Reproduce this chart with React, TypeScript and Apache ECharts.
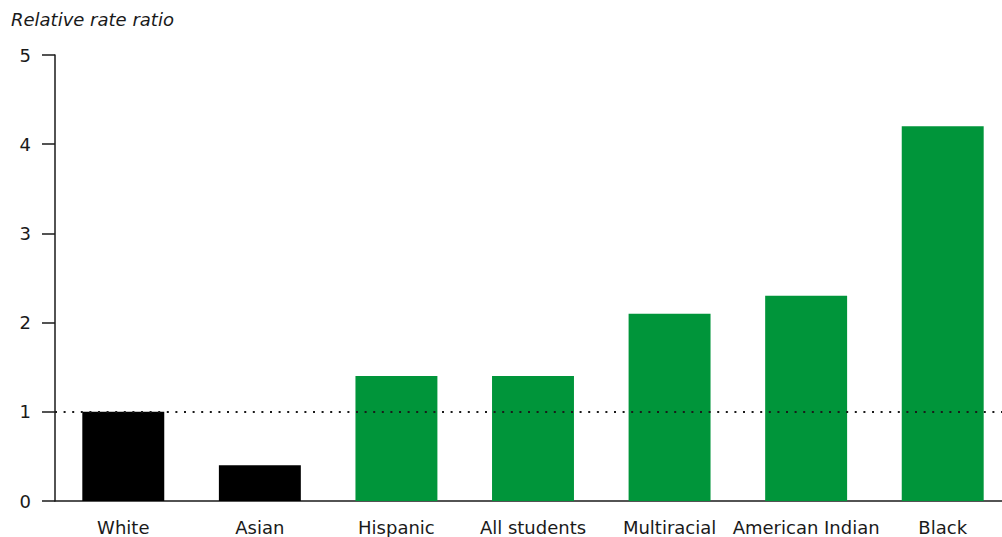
import React, { useEffect, useRef } from "react";
import * as echarts from "echarts";

const categories = ["White", "Asian", "Hispanic", "All students", "Multiracial", "American Indian", "Black"];
const values = [1.0, 0.4, 1.4, 1.4, 2.1, 2.3, 4.2];
const barColors = ["#000000", "#000000", "#00953a", "#00953a", "#00953a", "#00953a", "#00953a"];
const yTicks = [0, 1, 2, 3, 4, 5];
const referenceValue = 1;
const yTitle = "Relative rate ratio";

const FONT = "'DejaVu Sans', sans-serif";

export default function App() {
  const ref = useRef<HTMLDivElement>(null);
  useEffect(() => {
    if (!ref.current) return;
    const chart = echarts.init(ref.current, undefined, { renderer: "svg" });
    chart.setOption({
      animation: false,
      backgroundColor: "#ffffff",
      grid: { left: 55, top: 55, bottom: 36, width: 956, outerBoundsMode: "none", containLabel: false },
      graphic: [
        {
          type: "text",
          left: 11,
          top: 10,
          style: { text: yTitle, font: `italic 18px ${FONT}`, fill: "#1a1a1a" },
        },
      ],
      xAxis: {
        type: "category",
        data: categories,
        axisLine: { show: true, lineStyle: { color: "#1a1a1a", width: 1.5 } },
        axisTick: { show: false },
        axisLabel: { color: "#1a1a1a", fontSize: 18, fontFamily: FONT, margin: 17, interval: 0 },
      },
      yAxis: {
        type: "value",
        min: yTicks[0],
        max: yTicks[yTicks.length - 1],
        interval: 1,
        splitLine: { show: false },
        axisLine: { show: true, lineStyle: { color: "#1a1a1a", width: 1.5 } },
        axisTick: { show: true, length: 13, lineStyle: { color: "#1a1a1a", width: 1.5 } },
        axisLabel: { color: "#1a1a1a", fontSize: 18, fontFamily: FONT, margin: 24 },
      },
      series: [
        {
          type: "bar",
          barWidth: "60%",
          data: values.map((v, i) => ({ value: v, itemStyle: { color: barColors[i] } })),
          markLine: {
            silent: true,
            symbol: "none",
            label: { show: false },
            lineStyle: { color: "#1a1a1a", type: [2, 6.6], width: 2 },
            data: [{ yAxis: referenceValue }],
          },
        },
      ],
    });
    return () => chart.dispose();
  }, []);
  return <div ref={ref} style={{ position: "fixed", left: 0, top: 0, width: 1002, height: 537 }} />;
}
